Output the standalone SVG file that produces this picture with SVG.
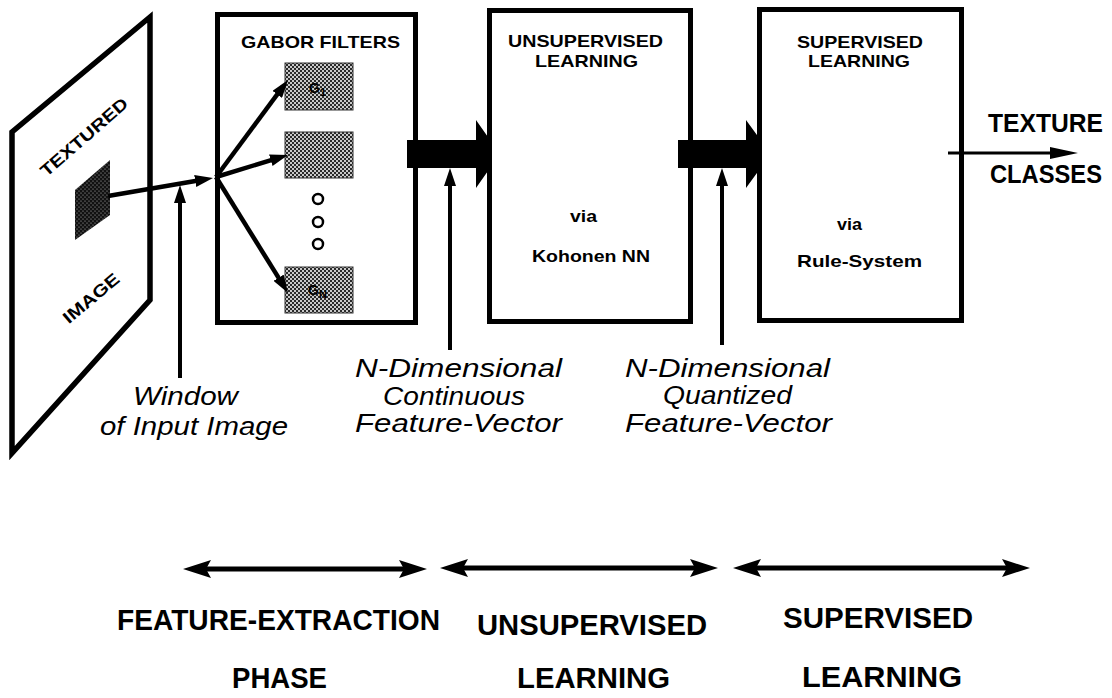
<svg xmlns="http://www.w3.org/2000/svg" width="1112" height="698" viewBox="0 0 1112 698">
<style>
.box{fill:#fff;stroke:#000;stroke-width:5}
.b{font-family:"Liberation Sans",Arial,sans-serif;font-weight:bold;fill:#000}
.i{font-family:"Liberation Sans",Arial,sans-serif;font-style:italic;fill:#000}
.ln{stroke:#000;fill:none}
.filt{fill:url(#stip);stroke:#333;stroke-width:1}
</style>
<defs>
<pattern id="stip" width="4" height="4" patternUnits="userSpaceOnUse">
<rect width="4" height="4" fill="#2a2a2a"/>
<circle cx="1" cy="1" r="1" fill="#fff"/>
<circle cx="3" cy="3" r="1" fill="#fff"/>
</pattern>
<pattern id="dark" width="4" height="4" patternUnits="userSpaceOnUse">
<rect width="4" height="4" fill="#111"/>
<circle cx="1" cy="1" r="0.6" fill="#bbb"/>
<circle cx="3" cy="3" r="0.6" fill="#bbb"/>
</pattern>
<marker id="mid" markerUnits="userSpaceOnUse" markerWidth="18" markerHeight="12" refX="9" refY="6" orient="auto">
<path d="M0,0 L18,6 L0,12 z" fill="#000"/>
</marker>
<marker id="thin" markerUnits="userSpaceOnUse" markerWidth="28" markerHeight="12" refX="14" refY="6" orient="auto">
<path d="M0,0 L28,6 L0,12 z" fill="#000"/>
</marker>
<marker id="big" markerUnits="userSpaceOnUse" markerWidth="28" markerHeight="18" refX="14" refY="9" orient="auto-start-reverse">
<path d="M0,0 L28,9 L0,18 L5,9 z" fill="#000"/>
</marker>
</defs>
<rect width="1112" height="698" fill="#fff"/>

<g id="image-plane">
<polygon points="150,17 150,300 12,453 12,132" fill="#fff" stroke="#000" stroke-width="5.5" stroke-linejoin="miter"/>
<polygon points="110,160 110,215 75,240 75,190" fill="url(#dark)"/>
<text class="b" font-size="17" transform="translate(84,137) rotate(-41)" x="-55" y="6" textLength="110" lengthAdjust="spacingAndGlyphs">TEXTURED</text>
<text class="b" font-size="17" transform="translate(91,298) rotate(-40)" x="-34" y="6" textLength="68" lengthAdjust="spacingAndGlyphs">IMAGE</text>
</g>

<g id="gabor-filters">
<rect class="box" x="217.5" y="14.5" width="198" height="308"/>
<text class="b" font-size="17" x="241" y="48" textLength="159" lengthAdjust="spacingAndGlyphs">GABOR FILTERS</text>
<rect class="filt" x="285" y="63" width="68" height="47"/>
<rect class="filt" x="285" y="132" width="68" height="46"/>
<rect class="filt" x="285" y="267" width="68" height="46"/>
<text class="b" font-size="14" x="309" y="93" fill="#111">G<tspan font-size="11" dy="3">1</tspan></text>
<text class="b" font-size="14" x="308" y="295" fill="#111">G<tspan font-size="11" dy="3">N</tspan></text>
<circle cx="318" cy="199" r="5" fill="none" stroke="#000" stroke-width="2.5"/>
<circle cx="318" cy="222" r="5" fill="none" stroke="#000" stroke-width="2.5"/>
<circle cx="318" cy="244" r="5" fill="none" stroke="#000" stroke-width="2.5"/>
</g>

<g id="unsupervised-learning">
<rect class="box" x="489.5" y="10.5" width="201" height="311"/>
<text class="b" font-size="17" x="508" y="47" textLength="155" lengthAdjust="spacingAndGlyphs">UNSUPERVISED</text>
<text class="b" font-size="17" x="535" y="67" textLength="103" lengthAdjust="spacingAndGlyphs">LEARNING</text>
<text class="b" font-size="17" x="570" y="222" textLength="27" lengthAdjust="spacingAndGlyphs">via</text>
<text class="b" font-size="17" x="532" y="262" textLength="118" lengthAdjust="spacingAndGlyphs">Kohonen NN</text>
</g>

<g id="supervised-learning">
<rect class="box" x="759.5" y="9.5" width="202" height="311"/>
<text class="b" font-size="17" x="797" y="48" textLength="126" lengthAdjust="spacingAndGlyphs">SUPERVISED</text>
<text class="b" font-size="17" x="808" y="67" textLength="102" lengthAdjust="spacingAndGlyphs">LEARNING</text>
<text class="b" font-size="17" x="837" y="230" textLength="25" lengthAdjust="spacingAndGlyphs">via</text>
<text class="b" font-size="17" x="797" y="267" textLength="125" lengthAdjust="spacingAndGlyphs">Rule-System</text>
</g>

<g id="texture-classes">
<text class="b" font-size="26" x="988" y="132" textLength="115" lengthAdjust="spacingAndGlyphs">TEXTURE</text>
<text class="b" font-size="25" x="990" y="183" textLength="112" lengthAdjust="spacingAndGlyphs">CLASSES</text>
</g>

<g id="labels">
<text class="i" font-size="26" x="133" y="405" textLength="105" lengthAdjust="spacingAndGlyphs">Window</text>
<text class="i" font-size="26" x="100" y="435" textLength="188" lengthAdjust="spacingAndGlyphs">of Input Image</text>
<text class="i" font-size="25" x="355" y="377" textLength="207" lengthAdjust="spacingAndGlyphs">N-Dimensional</text>
<text class="i" font-size="25" x="383" y="405" textLength="142" lengthAdjust="spacingAndGlyphs">Continuous</text>
<text class="i" font-size="25" x="355" y="432" textLength="207" lengthAdjust="spacingAndGlyphs">Feature-Vector</text>
<text class="i" font-size="25" x="625" y="377" textLength="205" lengthAdjust="spacingAndGlyphs">N-Dimensional</text>
<text class="i" font-size="25" x="663" y="404" textLength="129" lengthAdjust="spacingAndGlyphs">Quantized</text>
<text class="i" font-size="25" x="625" y="432" textLength="207" lengthAdjust="spacingAndGlyphs">Feature-Vector</text>
</g>

<g id="phases">
<text class="b" font-size="29" x="117" y="630" textLength="323" lengthAdjust="spacingAndGlyphs">FEATURE-EXTRACTION</text>
<text class="b" font-size="29" x="232" y="688" textLength="95" lengthAdjust="spacingAndGlyphs">PHASE</text>
<text class="b" font-size="29" x="477" y="635" textLength="230" lengthAdjust="spacingAndGlyphs">UNSUPERVISED</text>
<text class="b" font-size="29" x="517" y="688" textLength="153" lengthAdjust="spacingAndGlyphs">LEARNING</text>
<text class="b" font-size="29" x="783" y="628" textLength="190" lengthAdjust="spacingAndGlyphs">SUPERVISED</text>
<text class="b" font-size="29" x="802" y="687" textLength="160" lengthAdjust="spacingAndGlyphs">LEARNING</text>
</g>

<g id="connectors">
<line class="ln" x1="108" y1="196" x2="204.1" y2="179.5" stroke-width="4.5" marker-end="url(#mid)"/>
<line class="ln" x1="216" y1="177" x2="282.6" y2="87.2" stroke-width="4.5" marker-end="url(#mid)"/>
<line class="ln" x1="216" y1="177" x2="279.4" y2="157.6" stroke-width="4.5" marker-end="url(#mid)"/>
<line class="ln" x1="216" y1="177" x2="283.3" y2="285.4" stroke-width="4.5" marker-end="url(#mid)"/>
<line class="ln" x1="180" y1="378" x2="180" y2="194" stroke-width="4" marker-end="url(#mid)"/>
<polygon points="407,140 476,140 476,120 489,138.4 489,169.6 476,188 476,168 407,168" fill="#000"/>
<polygon points="678,140 746,140 746,120 759.5,138.4 759.5,169.6 746,188 746,168 678,168" fill="#000"/>
<line class="ln" x1="450" y1="350" x2="450" y2="177" stroke-width="4" marker-end="url(#mid)"/>
<line class="ln" x1="722" y1="345" x2="722" y2="177" stroke-width="4" marker-end="url(#mid)"/>
<line class="ln" x1="948" y1="153" x2="1064" y2="153" stroke-width="3" marker-end="url(#thin)"/>
<line class="ln" x1="197" y1="569" x2="413" y2="569" stroke-width="5" marker-start="url(#big)" marker-end="url(#big)"/>
<line class="ln" x1="454" y1="568" x2="704" y2="568" stroke-width="5" marker-start="url(#big)" marker-end="url(#big)"/>
<line class="ln" x1="747" y1="568" x2="1016" y2="568" stroke-width="5" marker-start="url(#big)" marker-end="url(#big)"/>
</g>
</svg>
